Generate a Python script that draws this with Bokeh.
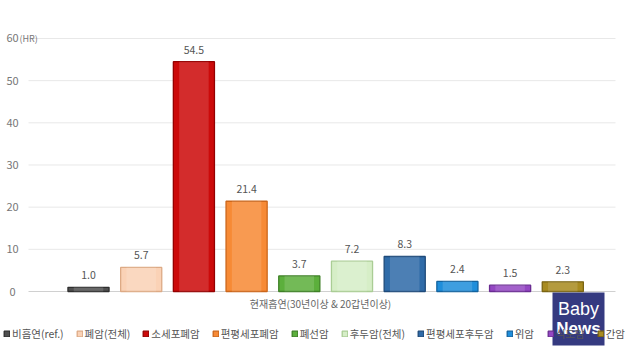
from bokeh.plotting import figure
from bokeh.models import Range1d, Legend, LegendItem, Label, ColumnDataSource, BoxAnnotation
from bokeh.embed import file_html
from bokeh.resources import INLINE
from bokeh.core.properties import value

categories = ["비흡연(ref.)", "폐암(전체)", "소세포폐암", "편평세포폐암", "폐선암",
              "후두암(전체)", "편평세포후두암", "위암", "식도암", "간암"]
hr_values = [1.0, 5.7, 54.5, 21.4, 3.7, 7.2, 8.3, 2.4, 1.5, 2.3]
value_labels = ["1.0", "5.7", "54.5", "21.4", "3.7", "7.2", "8.3", "2.4", "1.5", "2.3"]
y_ticks = [0, 10, 20, 30, 40, 50, 60]
y_tick_labels = ["0", "10", "20", "30", "40", "50", "60"]
y_unit = "(HR)"
x_title = "현재흡연(30년이상 & 20갑년이상)"

fills = ["#505050", "#FAD2B6", "#CC0A0A", "#F78A35", "#5CAF3C",
         "#D6EEC7", "#2F6BA8", "#1F8EDB", "#9447C3", "#A88B20"]
edges = ["#2E2E2E", "#DDAA85", "#950000", "#CC661A", "#3E8026",
         "#AACD95", "#1E4A7A", "#13639F", "#6A2C92", "#7A6412"]

FONT = "Noto Sans CJK KR"
xs = list(range(len(categories)))

# frame covers whole figure; everything drawn in data space
W, H = 632, 352
PX_PER_X = 52.7        # pixels per category step
PX_PER_Y = 4.217       # pixels per HR unit
x0_img, y0_img = 88, 291   # pixel position of first bar centre / zero line


def dx(px):
    return (px - x0_img) / PX_PER_X


def dy(py):
    return (y0_img - py) / PX_PER_Y


p = figure(width=W, height=H, output_backend="svg", toolbar_location=None,
           x_range=Range1d(dx(0), dx(W)), y_range=Range1d(dy(H), dy(0)),
           min_border=0, min_border_left=0, min_border_right=0,
           min_border_top=0, min_border_bottom=0)
p.outline_line_color = None
p.axis.visible = False
p.grid.visible = False

# gridlines
p.segment(x0=[dx(28)] * len(y_ticks), x1=[dx(615)] * len(y_ticks), y0=y_ticks, y1=y_ticks,
          line_color=["#D0D0D0"] + ["#E8E8E8"] * (len(y_ticks) - 1), line_width=1)

# y tick labels
p.text(x=[dx(12)] * len(y_ticks), y=y_ticks, text=y_tick_labels, text_align="center",
       text_baseline="middle", text_font=value(FONT), text_font_size="11px", text_color="#777777")
p.text(x=[dx(19)], y=[y_ticks[-1]], text=[y_unit], text_align="left",
       text_baseline="middle", text_font=value(FONT), text_font_size="9px", text_color="#777777")

src = ColumnDataSource(dict(x=xs, top=hr_values, name=categories, fill=fills, edge=edges,
                            lab=value_labels))
r = p.vbar(x="x", top="top", bottom=0, width=0.78, source=src,
           fill_color="fill", line_color="edge", line_width=1.3)
p.vbar(x="x", top="top", bottom=0, width=0.56, source=src,
       fill_color="white", fill_alpha=0.14, line_color=None)

p.text(x="x", y="top", text="lab", source=src, text_align="center", text_baseline="middle",
       y_offset=-12, text_font=value(FONT), text_font_size="10.5px", text_color="#555555")

# x title
p.text(x=[dx(320)], y=[dy(303)], text=[x_title],
       text_align="center", text_baseline="middle", text_font=value(FONT),
       text_font_size="10px", text_color="#666666")

items = [LegendItem(label=c, renderers=[r], index=i) for i, c in enumerate(categories)]
leg = Legend(items=items, orientation="horizontal", location=(3, H - 341),
             label_text_font=FONT, label_text_font_size="10.5px", label_text_color="#555555",
             glyph_width=7, glyph_height=7, label_standoff=2, spacing=12,
             border_line_color=None, background_fill_alpha=0, padding=0, margin=0,
             label_height=14)
p.add_layout(leg, "center")

# watermark logo
p.add_layout(BoxAnnotation(left=dx(552), right=dx(604), top=dy(292), bottom=dy(345),
                           fill_color="#353A80", fill_alpha=1.0, line_color=None))
p.add_layout(Label(x=dx(578), y=dy(308), text="Baby", text_font="Liberation Sans",
                   text_font_size="18px", text_color="white", text_align="center",
                   text_baseline="middle"))
p.add_layout(Label(x=dx(578), y=dy(328), text="News", text_font="Liberation Sans",
                   text_font_size="17px", text_font_style="bold", text_color="white",
                   text_align="center", text_baseline="middle"))

open("out.html", "w").write(file_html(p, INLINE))
